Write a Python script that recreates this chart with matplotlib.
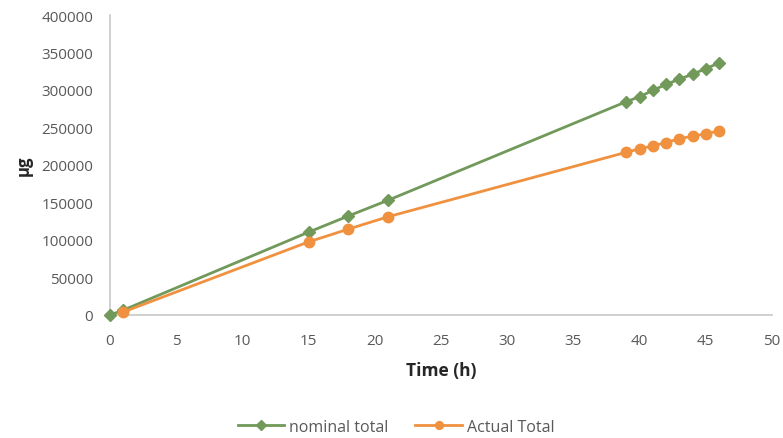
import matplotlib.pyplot as plt

# values
time_nominal = [0, 1, 15, 18, 21, 39, 40, 41, 42, 43, 44, 45, 46]
nominal_total = [0, 6500, 110500, 132000, 153000, 284500, 291000, 299500,
                 307500, 314500, 321000, 328500, 336000]

time_actual = [1, 15, 18, 21, 39, 40, 41, 42, 43, 44, 45, 46]
actual_total = [4000, 97500, 114500, 131000, 217000, 221500, 225500,
                230000, 235000, 238500, 241500, 245500]

green = "#70995a"
orange = "#f0913f"
grey = "#595959"

plt.rcParams['font.family'] = ['Open Sans', 'DejaVu Sans']

fig = plt.figure(figsize=(7.83, 4.39), dpi=100)
ax = fig.add_axes([110 / 783, 1 - 316 / 439, 662 / 783, 300 / 439])

ax.plot(time_nominal, nominal_total, color=green, lw=2.0, marker="D",
        ms=6.5, label="nominal total", clip_on=False, zorder=3)
ax.plot(time_actual, actual_total, color=orange, lw=2.0, marker="o",
        ms=7.5, label="Actual Total", clip_on=False, zorder=4)

ax.set_xlim(0, 50)
ax.set_ylim(0, 400000)
ax.set_xticks(range(0, 51, 5))
ax.set_yticks(range(0, 400001, 50000))

for s in ["top", "right"]:
    ax.spines[s].set_visible(False)
for s in ["left", "bottom"]:
    ax.spines[s].set_color("#c8c8c8")
    ax.spines[s].set_linewidth(1.2)
ax.tick_params(length=0, colors=grey, labelsize=11)
ax.tick_params(axis="y", pad=12)
ax.tick_params(axis="x", pad=13)

ax.set_xlabel("Time (h)", fontsize=12.5, fontweight="bold", color="#262626",
              labelpad=9)
ax.set_ylabel("µg", fontsize=12, fontweight="bold", color="#262626",
              labelpad=6)

fig.legend(loc="center", bbox_to_anchor=(396 / 783, 1 - 428 / 439), ncol=2,
           frameon=False, fontsize=11.5, labelcolor=grey, handlelength=2.9,
           handletextpad=0.3, columnspacing=1.7, markerscale=0.75)

fig.savefig("out.png", dpi=100)
